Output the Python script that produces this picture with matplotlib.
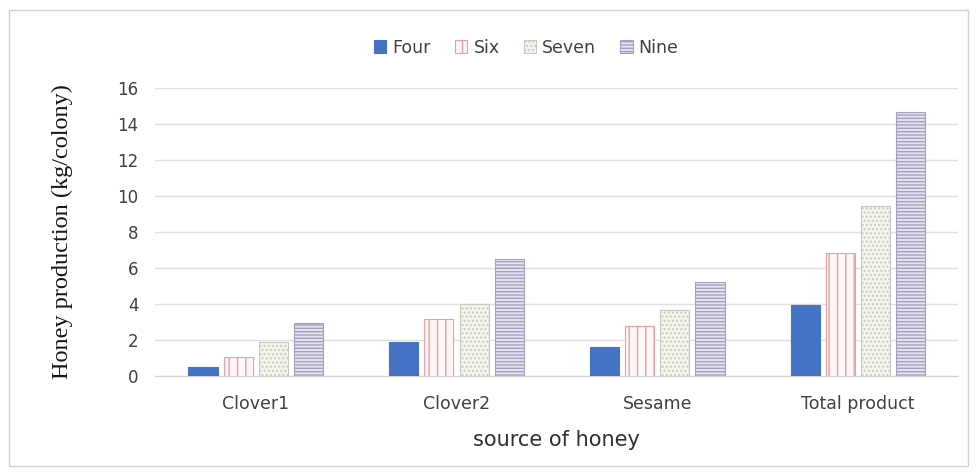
import matplotlib
matplotlib.use("Agg")
import matplotlib.pyplot as plt
import numpy as np
from matplotlib.patches import Rectangle

plt.rcParams['hatch.linewidth'] = 1.0

categories = ["Clover1", "Clover2", "Sesame", "Total product"]
series_names = ["Four", "Six", "Seven", "Nine"]
four = [0.5, 1.9, 1.6, 3.95]
six = [1.05, 3.15, 2.8, 6.85]
seven = [1.9, 4.0, 3.65, 9.45]
nine = [2.95, 6.5, 5.2, 14.65]
yticks = [0, 2, 4, 6, 8, 10, 12, 14, 16]

fig = plt.figure(figsize=(9.77, 4.76), dpi=100)
fig.patches.append(Rectangle((0.009, 0.02), 0.982, 0.96, transform=fig.transFigure,
                             fill=False, edgecolor="#d0d0d0", linewidth=1.0))
ax = fig.add_axes([0.159, 0.21, 0.822, 0.605])

x = np.arange(len(categories))
width = 0.145
step = 0.175
styles = [
    dict(facecolor="#4472c4", edgecolor="#4472c4", hatch=None),
    dict(facecolor="#fdf6f6", edgecolor="#e8a0a0", hatch="||"),
    dict(facecolor="#f4f6ec", edgecolor="#c8c8c0", hatch="...."),
    dict(facecolor="#e6e2ee", edgecolor="#a8a0c0", hatch="-----"),
]
values = [four, six, seven, nine]
for i, (name, vals, st) in enumerate(zip(series_names, values, styles)):
    ax.bar(x + (i - 1.5) * step, vals, width, label=name,
           facecolor=st["facecolor"], edgecolor=st["edgecolor"],
           hatch=st["hatch"], linewidth=0.8, zorder=3)

ax.set_xlim(-0.5, 3.5)
ax.set_ylim(0, 16)
ax.set_yticks(yticks)
ax.set_xticks(x)
ax.set_xticklabels(categories, fontsize=12.5, color="#404040", family="DejaVu Sans")
ax.tick_params(axis="y", labelsize=12, labelcolor="#404040", length=0, pad=12)
ax.tick_params(axis="x", length=0, pad=14)
ax.grid(axis="y", color="#e0e0e0", linewidth=1.0, zorder=0)
for side in ["top", "right", "left"]:
    ax.spines[side].set_visible(False)
ax.spines["bottom"].set_color("#d0d0d0")

ax.set_ylabel("Honey production (kg/colony)", family="Liberation Serif",
              fontsize=17.5, color="#151515", labelpad=32)
ax.set_xlabel("source of honey", family="DejaVu Sans", fontsize=15,
              color="#303030", labelpad=12)

leg = ax.legend(loc="lower center", bbox_to_anchor=(0.462, 1.055), ncol=4,
                frameon=False, handlelength=0.7, handleheight=0.7,
                columnspacing=1.4, handletextpad=0.35,
                prop={"family": "DejaVu Sans", "size": 12.5})
for t in leg.get_texts():
    t.set_color("#404040")

fig.savefig("out.png", dpi=100)
